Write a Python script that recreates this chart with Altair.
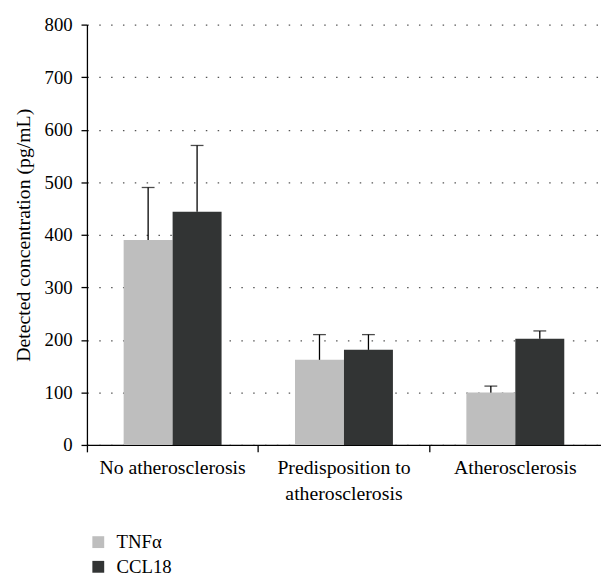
import altair as alt
import pandas as pd

groups = ["No atherosclerosis", "Predisposition to atherosclerosis", "Atherosclerosis"]
series = ["TNFα", "CCL18"]
colors = ["#bebebe", "#323434"]
tnf_mean = [390, 162, 100]
tnf_err = [100, 48, 12]
ccl_mean = [444, 181, 202]
ccl_err = [126, 29, 15]
y_ticks = [0, 100, 200, 300, 400, 500, 600, 700, 800]

rows = []
for g, m, e in zip(groups, tnf_mean, tnf_err):
    rows.append({"group": g, "series": series[0], "value": m, "upper": m + e})
for g, m, e in zip(groups, ccl_mean, ccl_err):
    rows.append({"group": g, "series": series[1], "value": m, "upper": m + e})
df = pd.DataFrame(rows)

W = 521
H = 426
FONT = "Liberation Serif"
FS = 19

x_enc = alt.X(
    "group:N", sort=groups,
    scale=alt.Scale(paddingInner=0, paddingOuter=0),
    axis=alt.Axis(
        title=None, labelAngle=0, bandPosition=0,
        tickSize=7, labelPadding=6, labelFontSize=20, labelLineHeight=26,
        labelExpr="datum.value == 'Predisposition to atherosclerosis' ? ['Predisposition to', 'atherosclerosis'] : datum.label",
        domainColor="black", tickColor="black", domainWidth=1.3, tickWidth=1.3,
        labelColor="black", labelFont=FONT, labelBaseline="top",
    ),
)
xo_enc = alt.XOffset("series:N", sort=series, scale=alt.Scale(paddingOuter=0.75, paddingInner=0))
y_scale = alt.Scale(domain=[0, 800], nice=False)

bars = alt.Chart(df).mark_bar().encode(
    x=x_enc,
    xOffset=xo_enc,
    y=alt.Y(
        "value:Q", scale=y_scale,
        axis=alt.Axis(
            values=y_ticks, title="Detected concentration (pg/mL)", grid=True,
            gridDash=[1.5, 10.5], gridColor="#555555", gridWidth=1.3,
            tickSize=6, labelPadding=9, labelFontSize=FS, labelFont=FONT,
            labelColor="black", titleFont=FONT, titleFontSize=20,
            titleFontWeight="normal", titleColor="black", titlePadding=11,
            domainColor="black", tickColor="black", domainWidth=1.3, tickWidth=1.3,
        ),
    ),
    color=alt.Color(
        "series:N", sort=series,
        scale=alt.Scale(domain=series, range=colors),
        legend=alt.Legend(
            title=None, orient="none", legendX=2, legendY=515, direction="vertical",
            symbolType="square", symbolSize=144, symbolStrokeWidth=0,
            labelFont=FONT, labelFontSize=FS, labelColor="black",
            labelOffset=9, rowPadding=5, padding=0,
        ),
    ),
)

err_rule = alt.Chart(df).mark_rule(color="black", strokeWidth=1.3).encode(
    x=x_enc, xOffset=xo_enc,
    y=alt.Y("value:Q", scale=y_scale),
    y2="upper:Q",
)
err_cap = alt.Chart(df).mark_tick(color="black", thickness=1.3, size=13).encode(
    x=x_enc, xOffset=xo_enc,
    y=alt.Y("upper:Q", scale=y_scale),
)

chart = alt.layer(bars, err_rule, err_cap).properties(
    width=W, height=H,
    autosize=alt.AutoSizeParams(type="none"),
    padding={"left": 80, "top": 13, "right": 0, "bottom": 130},
).configure(
    font=FONT,
    style={"guide-label": {"font": FONT}, "guide-title": {"font": FONT}},
).configure_view(stroke=None).configure_legend(
    labelFont=FONT, labelFontSize=FS, labelColor="black"
)

chart.save("out.html", embed_options={"renderer": "svg", "actions": False})
